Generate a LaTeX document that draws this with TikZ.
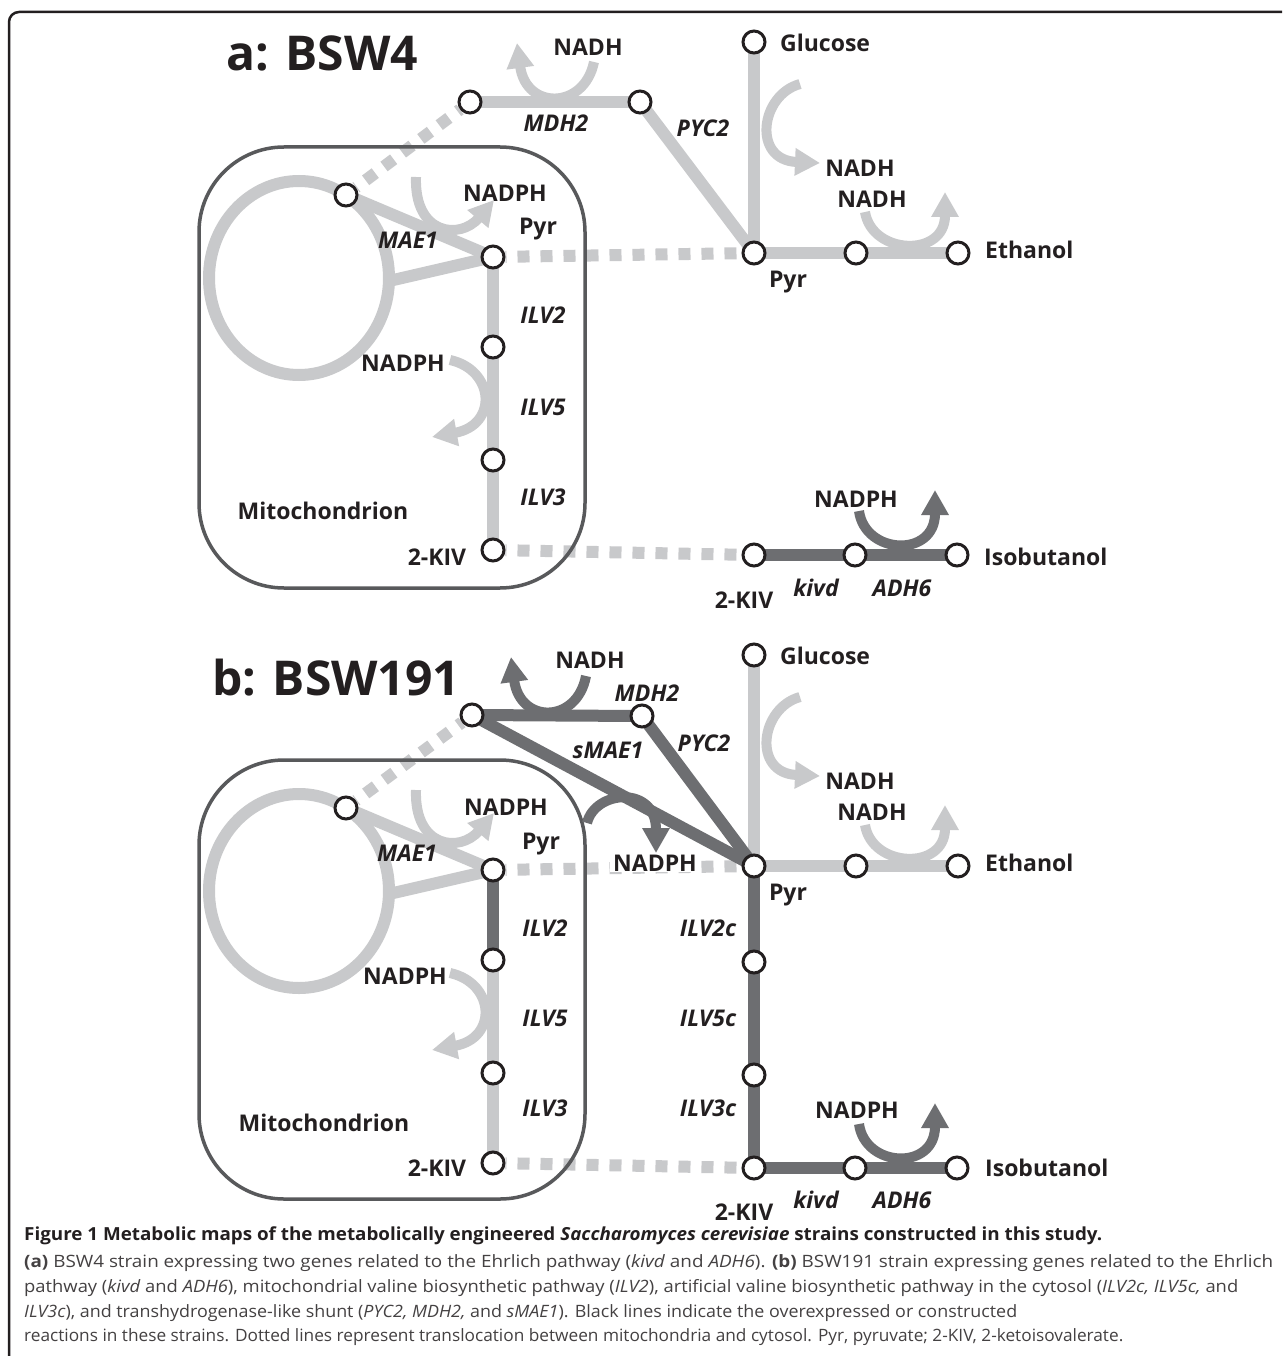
\documentclass[tikz,border=0pt]{standalone}
\usepackage{fontspec}
\setmainfont{Open Sans}
\usepackage{graphicx}
\usetikzlibrary{arrows.meta}
\pgfdeclarelayer{bg}
\pgfsetlayers{bg,main}
\definecolor{lg}{HTML}{C8C9CB}
\definecolor{dg}{HTML}{6D6E71}
\definecolor{bx}{HTML}{58595B}
\definecolor{ink}{HTML}{231F20}
\tikzset{
 met/.style={circle, draw=ink, line width=3pt, fill=white, minimum size=22pt, inner sep=0pt},
 lbl/.style={font=\fontsize{23}{26}\selectfont\bfseries, text=ink, inner sep=0pt},
 gene/.style={font=\fontsize{23}{26}\selectfont\bfseries\itshape, text=ink, inner sep=0pt},
 ttl/.style={font=\fontsize{48}{54}\selectfont\bfseries, text=ink, inner sep=0pt, anchor=base west},
 lline/.style={draw=lg, line width=12pt},
 dline/.style={draw=dg, line width=12pt},
 tline/.style={draw=lg, line width=12pt, dash pattern=on 12pt off 11pt, dash phase=11pt},
 larc/.style={draw=lg, line width=10pt, -{Triangle[width=26pt,length=25pt]}},
 darc/.style={draw=dg, line width=10pt, -{Triangle[width=26pt,length=25pt]}},
 mito/.style={draw=bx, line width=3.5pt, rounded corners=85pt},
 captxt/.style={font=\fontsize{17}{20}\selectfont, text=ink!85, inner sep=0pt, anchor=base west},
 capttl/.style={font=\fontsize{18}{20}\selectfont\bfseries, text=ink, inner sep=0pt, anchor=base west},
}
\begin{document}
\begin{tikzpicture}[x=1pt,y=-1pt]
\useasboundingbox (0,0) rectangle (1282,1356);
\begin{pgfonlayer}{bg}
\fill[white] (0,0) rectangle (1282,1356);
\end{pgfonlayer}
% frame
\draw[ink, line width=2.5pt, rounded corners=10pt] (9,1356) -- (9,12) -- (1282,12);

%================ PANEL A ================
\draw[mito] (199,147) rectangle (585,588);
\node[met] (aglc) at (754,42) {};
\node[met] (apyr) at (754,253) {};
\node[met] (aem) at (856,253) {};
\node[met] (aeth) at (958,253) {};
\node[met] (am1) at (470,102) {};
\node[met] (am2) at (640,102) {};
\node[met] (aring) at (346,195) {};
\node[met] (apm) at (493,257) {};
\node[met] (ai2) at (493,347) {};
\node[met] (ai5) at (493,460) {};
\node[met] (akm) at (493,550) {};
\node[met] (akc) at (754,555) {};
\node[met] (akv) at (855,555) {};
\node[met] (aiso) at (957,555) {};
\coordinate (aringR) at (389,281);
\begin{pgfonlayer}{bg}
\draw[lline] (299,278) ellipse [x radius=90pt, y radius=97pt];
\draw[lline] (aglc.center) -- (apyr.center);
\draw[lline] (apyr.center) -- (aem.center) -- (aeth.center);
\draw[lline] (am1.center) -- (am2.center);
\draw[lline] (am2.center) -- (apyr.center);
\draw[lline] (aring.center) -- (apm.center);
\draw[lline] (aringR) -- (apm.center);
\draw[lline] (apm.center) -- (ai2.center) -- (ai5.center) -- (akm.center);
\draw[tline] (aring) -- (am1);
\draw[tline] (apm) -- (apyr);
\draw[tline] (akm) -- (akc);
\draw[dline] (akc.center) -- (akv.center) -- (aiso.center);
\end{pgfonlayer}
% cofactor arcs
\draw[larc] (594,62) .. controls (584,110) and (526,110) .. (517,43);
\draw[larc] (416,177) .. controls (414,235) and (460,240) .. (494,200);
\draw[larc] (450,360) .. controls (495,370) and (498,425) .. (432,437);
\draw[larc] (800,84) .. controls (760,95) and (752,160) .. (820,163);
\draw[larc] (865,212) .. controls (872,255) and (945,258) .. (945,192);
\draw[darc] (859,511) .. controls (865,555) and (935,558) .. (935,490);
% labels
\node[ttl] (atitle) at (226,71) {a: BSW4};
\node[lbl] (al1) at (588,47) {NADH};
\node[gene] (al2) at (556,123) {MDH2};
\node[lbl, anchor=west] (al3) at (780,43) {Glucose};
\node[gene] (al4) at (703,128) {PYC2};
\node[lbl] (al5) at (860,168) {NADH};
\node[lbl] (al6) at (872,199) {NADH};
\node[lbl, anchor=west] (al7) at (985,250) {Ethanol};
\node[lbl] (al8) at (788,282) {Pyr};
\node[lbl] (al9) at (505,193) {NADPH};
\node[lbl] (al10) at (538,229) {Pyr};
\node[gene] (al11) at (408,240) {MAE1};
\node[gene] (al12) at (543,315) {ILV2};
\node[gene] (al13) at (543,407) {ILV5};
\node[gene] (al14) at (543,497) {ILV3};
\node[lbl] (al15) at (403,363) {NADPH};
\node[lbl] (al16) at (323,511) {Mitochondrion};
\node[lbl] (al17) at (437,557) {2-KIV};
\node[lbl] (al18) at (856,499) {NADPH};
\node[lbl, anchor=west] (al19) at (984,557) {Isobutanol};
\node[lbl] (al20) at (744,600) {2-KIV};
\node[gene] (al21) at (816,588) {kivd};
\node[gene] (al22) at (902,588) {ADH6};

%================ PANEL B ================
\begin{scope}[shift={(0,613)}]
\draw[mito] (199,147) rectangle (585,586);
\node[met] (bglc) at (754,42) {};
\node[met] (bpyr) at (754,253) {};
\node[met] (bem) at (856,253) {};
\node[met] (beth) at (958,253) {};
\node[met] (bm1) at (472,102) {};
\node[met] (bm2) at (642,103) {};
\node[met] (bring) at (346,195) {};
\node[met] (bpm) at (493,257) {};
\node[met] (bi2) at (493,347) {};
\node[met] (bi5) at (493,460) {};
\node[met] (bkm) at (493,550) {};
\node[met] (bc2) at (754,349) {};
\node[met] (bc5) at (754,462) {};
\node[met] (bkc) at (754,555) {};
\node[met] (bkv) at (855,555) {};
\node[met] (biso) at (957,555) {};
\coordinate (bringR) at (389,281);
\begin{pgfonlayer}{bg}
\draw[lline] (299,278) ellipse [x radius=90pt, y radius=97pt];
\draw[lline] (bglc.center) -- (bpyr.center);
\draw[lline] (bpyr.center) -- (bem.center) -- (beth.center);
\draw[lline] (bring.center) -- (bpm.center);
\draw[lline] (bringR) -- (bpm.center);
\draw[lline] (bi2.center) -- (bi5.center) -- (bkm.center);
\draw[dline] (bpm.center) -- (bi2.center);
\draw[tline] (bring) -- (bm1);
\draw[tline] (bpm) -- (bpyr);
\draw[tline] (bkm) -- (bkc);
\draw[dline] (bm1.center) -- (bm2.center);
\draw[dline] (bm2.center) -- (bpyr.center);
\draw[dline] (bm1.center) -- (bpyr.center);
\draw[dline] (bpyr.center) -- (bc2.center) -- (bc5.center) -- (bkc.center);
\draw[dline] (bkc.center) -- (bkv.center) -- (biso.center);
\end{pgfonlayer}
\draw[darc] (586,63) .. controls (577,111) and (520,111) .. (511,44);
\draw[larc] (416,177) .. controls (414,235) and (460,240) .. (494,200);
\draw[larc] (450,360) .. controls (495,370) and (498,425) .. (432,437);
\draw[larc] (800,84) .. controls (760,95) and (752,160) .. (820,163);
\draw[larc] (865,212) .. controls (872,255) and (945,258) .. (945,192);
\draw[darc] (859,511) .. controls (865,555) and (935,558) .. (935,490);
\draw[darc] (587,210) .. controls (595,177) and (656,172) .. (656,240);
% labels
\node[ttl] (btitle) at (212,82) {b: BSW191};
\node[lbl] (bl1) at (590,47) {NADH};
\node[gene] (bl2) at (647,80) {MDH2};
\node[gene] (bl2b) at (608,137) {sMAE1};
\node[lbl, anchor=west] (bl3) at (780,43) {Glucose};
\node[gene] (bl4) at (704,130) {PYC2};
\node[lbl] (bl5) at (860,168) {NADH};
\node[lbl] (bl6) at (872,199) {NADH};
\node[lbl, anchor=west] (bl7) at (985,250) {Ethanol};
\node[lbl] (bl8) at (788,282) {Pyr};
\node[lbl] (bl9) at (506,194) {NADPH};
\node[lbl] (bl10) at (541,231) {Pyr};
\node[gene] (bl11) at (407,240) {MAE1};
\node[lbl, fill=white, inner xsep=3pt, inner ysep=1pt] (bl9b) at (655,250) {NADPH};
\node[gene] (bl12) at (545,315) {ILV2};
\node[gene] (bl13) at (545,405) {ILV5};
\node[gene] (bl14) at (545,495) {ILV3};
\node[gene] (bl12c) at (708,315) {ILV2c};
\node[gene] (bl13c) at (708,405) {ILV5c};
\node[gene] (bl14c) at (708,495) {ILV3c};
\node[lbl] (bl15) at (405,363) {NADPH};
\node[lbl] (bl16) at (324,510) {Mitochondrion};
\node[lbl] (bl17) at (437,555) {2-KIV};
\node[lbl] (bl18) at (857,497) {NADPH};
\node[lbl, anchor=west] (bl19) at (985,555) {Isobutanol};
\node[lbl] (bl20) at (744,599) {2-KIV};
\node[gene] (bl21) at (816,587) {kivd};
\node[gene] (bl22) at (902,587) {ADH6};
\end{scope}

%================ CAPTION ================
\node[capttl] (c1) at (24,1240) {\resizebox{1078pt}{\height}{Figure 1 Metabolic maps of the metabolically engineered \textit{Saccharomyces cerevisiae} strains constructed in this study.}};
\node[captxt] (c2) at (24,1267) {\resizebox{1249pt}{\height}{\textbf{(a)} BSW4 strain expressing two genes related to the Ehrlich pathway (\textit{kivd} and \textit{ADH6}). \textbf{(b)} BSW191 strain expressing genes related to the Ehrlich}};
\node[captxt] (c3) at (24,1292) {\resizebox{1214pt}{\height}{pathway (\textit{kivd} and \textit{ADH6}), mitochondrial valine biosynthetic pathway (\textit{ILV2}), artificial valine biosynthetic pathway in the cytosol (\textit{ILV2c, ILV5c,} and}};
\node[captxt] (c4) at (24,1317) {\resizebox{993pt}{\height}{\textit{ILV3c}), and transhydrogenase-like shunt (\textit{PYC2, MDH2,} and \textit{sMAE1}). Black lines indicate the overexpressed or constructed}};
\node[captxt] (c5) at (24,1341) {\resizebox{1099pt}{\height}{reactions in these strains. Dotted lines represent translocation between mitochondria and cytosol. Pyr, pyruvate; 2-KIV, 2-ketoisovalerate.}};
\end{tikzpicture}
\end{document}
